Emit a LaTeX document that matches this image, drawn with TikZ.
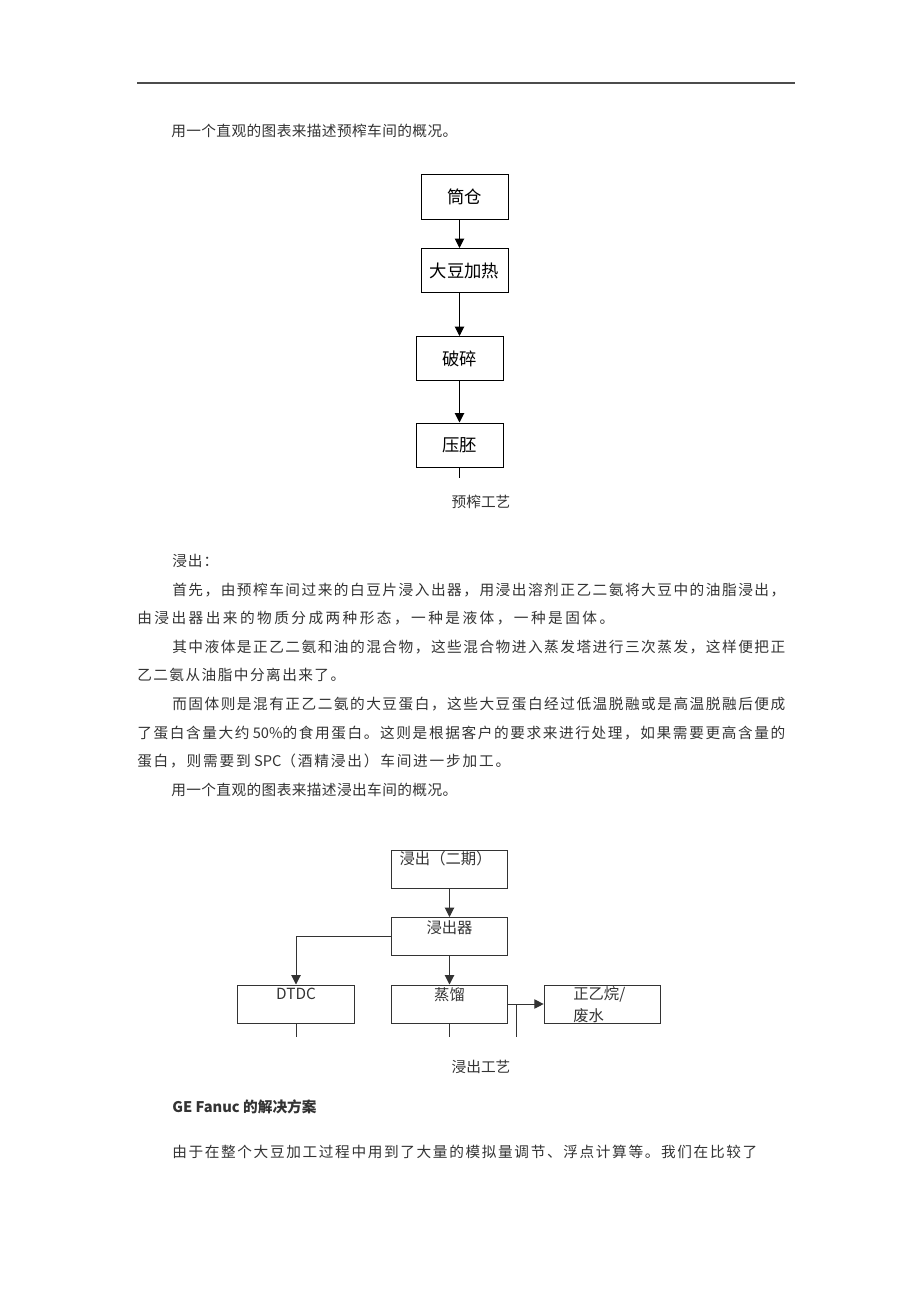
\documentclass[tikz,border=0pt]{standalone}
\usepackage{fontspec}
\setmainfont{Noto Sans CJK SC}
\usetikzlibrary{positioning, arrows.meta}
\definecolor{ink}{rgb}{0.20,0.20,0.20}
\definecolor{rulegray}{rgb}{0.30,0.30,0.30}

% glue between Han characters, so a line can be spread to its width
\XeTeXinterchartokenstate=1
\newXeTeXintercharclass\hanclass
\newcount\hancode
\hancode="3000
\loop
  \XeTeXcharclass\hancode=\hanclass
  \advance\hancode by 1
\ifnum\hancode<"A000 \repeat
\hancode="FF00
\loop
  \XeTeXcharclass\hancode=\hanclass
  \advance\hancode by 1
\ifnum\hancode<"FFF0 \repeat
\XeTeXinterchartoks\hanclass\hanclass={\hskip 0pt plus 1fil}
\newcommand{\spreadline}[2]{\makebox[#1][s]{#2}}
\newcommand{\noglue}{\XeTeXinterchartokenstate=0\relax}

\begin{document}
\begin{tikzpicture}[
  x=0.75pt, y=-0.75pt,
  bodytext/.style={inner sep=0pt, anchor=west, text=ink,
    font=\fontsize{11pt}{13pt}\selectfont},
  caption/.style={inner sep=0pt, text=ink,
    font=\fontsize{11pt}{13pt}\selectfont},
  procbox/.style={draw, line width=0.75pt, minimum width=65.25pt,
    minimum height=33pt, inner sep=0pt,
    font=\fontsize{13pt}{15pt}\selectfont},
  stagebox/.style={draw=ink, line width=0.75pt, minimum width=87.5pt,
    minimum height=28.5pt, inner sep=0pt},
  stagelabel/.style={inner sep=0pt, text=ink,
    font=\fontsize{11.5pt}{16.5pt}\selectfont\noglue},
  arr/.style={-{Triangle[length=7pt,width=7pt]}, line width=0.75pt},
  link/.style={draw=ink, line width=0.75pt},
]
\useasboundingbox (0,0) rectangle (920,1302);

% page rule
\coordinate (ruleL) at (137,83);
\coordinate (ruleR) at (795,83);
\draw[rulegray, line width=1.1pt] (ruleL) -- (ruleR);

\node[bodytext] (intro) at (171,131)
  {\spreadline{214.5pt}{用一个直观的图表来描述预榨车间的概况。}};

% pre-pressing chart
\node[procbox] (silo)  at (464.5,197)   {筒仓};
\node[procbox] (heat)  at (464.5,270.5) {大豆加热};
\node[procbox] (crush) at (459.5,358.5) {破碎};
\node[procbox] (flake) at (459.5,445)   {压胚};
\coordinate (flakeend) at (459.5,478);

\draw[arr] (silo.south -| flake) -- (heat.north -| flake);
\draw[arr] (heat.south -| flake) -- (crush.north);
\draw[arr] (crush) -- (flake);
\draw[line width=0.75pt] (flake) -- (flakeend);

\node[caption] (cap1) at (481,502) {预榨工艺};

% text
\node[bodytext] (t0) at (172,561) {\spreadline{34.5pt}{浸出：}};
\node[bodytext] (t1) at (172,590)
  {\spreadline{459.75pt}{首先，由预榨车间过来的白豆片浸入出器，用浸出溶剂正乙二氨将大豆中的油脂浸出，}};
\node[bodytext] (t2) at (137,618)
  {\spreadline{357.75pt}{由浸出器出来的物质分成两种形态，一种是液体，一种是固体。}};
\node[bodytext] (t3) at (172,647)
  {\spreadline{459.75pt}{其中液体是正乙二氨和油的混合物，这些混合物进入蒸发塔进行三次蒸发，这样便把正}};
\node[bodytext] (t4) at (137,675)
  {\spreadline{156pt}{乙二氨从油脂中分离出来了。}};
\node[bodytext] (t5) at (172,704)
  {\spreadline{459.75pt}{而固体则是混有正乙二氨的大豆蛋白，这些大豆蛋白经过低温脱融或是高温脱融后便成}};
\node[bodytext] (t6) at (137,733)
  {\spreadline{486pt}{了蛋白含量大约 50\%的食用蛋白。这则是根据客户的要求来进行处理，如果需要更高含量的}};
\node[bodytext] (t7) at (137,761)
  {\spreadline{279.75pt}{蛋白，则需要到 SPC（酒精浸出）车间进一步加工。}};
\node[bodytext] (t8) at (171,790)
  {\spreadline{214.5pt}{用一个直观的图表来描述浸出车间的概况。}};

% extraction chart
\node[stagebox, label={[stagelabel, anchor=north west, xshift=6.5pt, yshift=-1.5pt]north west:浸出（二期）}]
  (phase) at (449.5,869) {};
\node[stagebox, label={[stagelabel, anchor=north, yshift=-2.5pt]north:浸出器}]
  (extractor) at (449.5,936.5) {};
\node[stagebox, label={[stagelabel, anchor=north, yshift=-2.5pt]north:DTDC}]
  (dtdc) at (296,1004) {};
\node[stagebox, label={[stagelabel, anchor=north, yshift=-2.5pt]north:蒸馏}]
  (distil) at (449.5,1004) {};
\node[stagebox, label={[stagelabel, anchor=north west, align=left, xshift=22pt, yshift=-1pt]north west:正乙烷/\\废水}]
  (waste) at (602.5,1004) {};

\coordinate (tap)     at (516,1004);
\coordinate (tapend)  at (516,1037);
\coordinate (dtdcend) at (296,1037);
\coordinate (distend) at (449.5,1037);

\draw[arr, ink] (phase) -- (extractor);
\draw[arr, ink] (extractor.west) -| (dtdc.north);
\draw[arr, ink] (extractor) -- (distil);
\draw[arr, ink] (distil.east) -- (waste.west);
\draw[link] (tap) -- (tapend);
\draw[link] (dtdc) -- (dtdcend);
\draw[link] (distil) -- (distend);

\node[caption] (cap2) at (481,1067) {浸出工艺};

\node[bodytext, font=\fontsize{11pt}{13pt}\selectfont\bfseries] (t9) at (172,1107)
  {GE Fanuc 的解决方案};
\node[bodytext] (t10) at (172,1152)
  {\spreadline{438.75pt}{由于在整个大豆加工过程中用到了大量的模拟量调节、浮点计算等。我们在比较了}};
\end{tikzpicture}
\end{document}
